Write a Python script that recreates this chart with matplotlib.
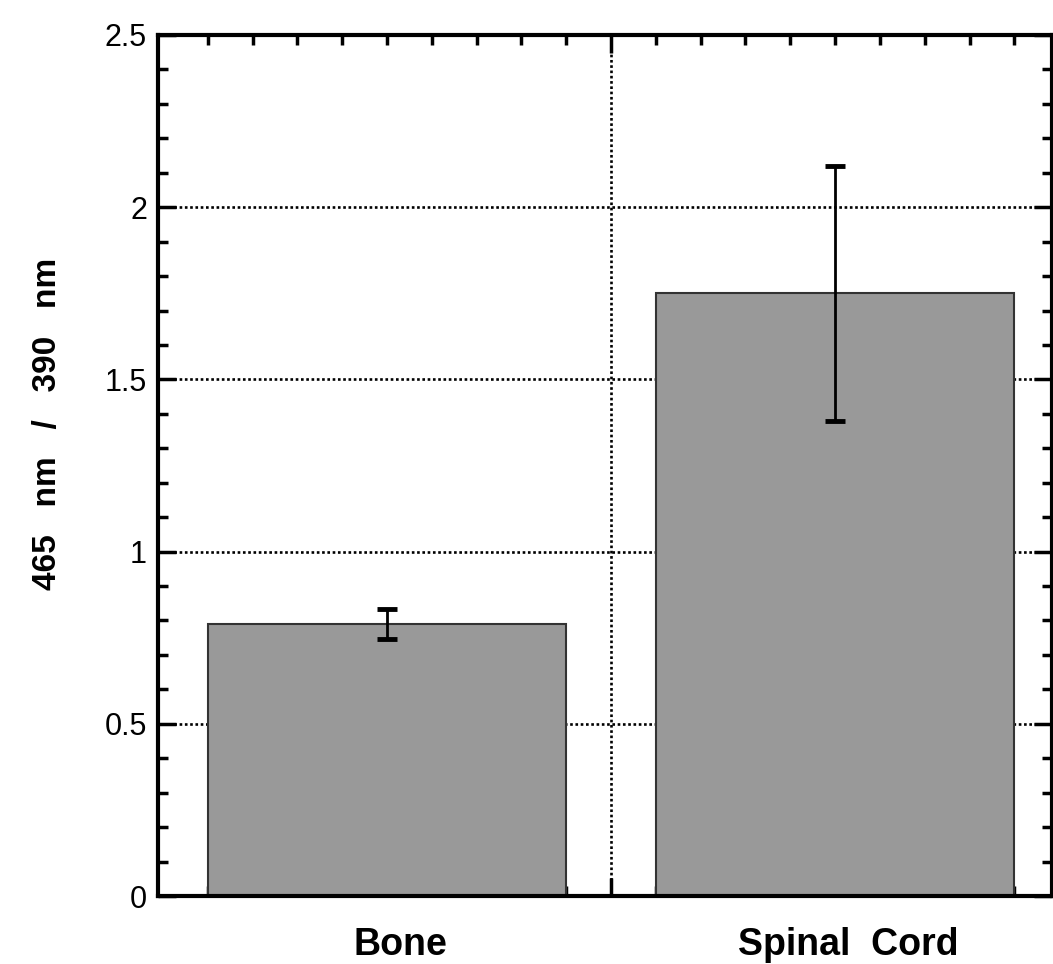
import matplotlib
matplotlib.use("Agg")
import matplotlib.pyplot as plt
from matplotlib.ticker import MultipleLocator, FixedLocator

plt.rcParams['font.family'] = ['Liberation Sans', 'DejaVu Sans']

categories = ["Bone", "Spinal  Cord"]
ratios = [0.79, 1.75]
errors = [0.044, 0.37]
y_ticks = [0, 0.5, 1, 1.5, 2, 2.5]
y_tick_labels = ["0", "0.5", "1", "1.5", "2", "2.5"]

fig = plt.figure(figsize=(10.53, 9.64), dpi=100)
ax = fig.add_axes([158 / 1053, 1 - 896 / 964, (1052 - 158) / 1053, (896 - 35) / 964])

x = list(range(len(categories)))
ax.bar(x, ratios, width=0.8, color="#999999", edgecolor="#333333",
       linewidth=1.5, zorder=2)
ax.errorbar(x, ratios, yerr=errors, fmt="none", ecolor="black",
            elinewidth=2, capsize=7, capthick=3.5, zorder=3)

ax.set_xlim(-0.511, 1.484)
ax.set_ylim(0, 2.5)

# dotted grid at the major ticks
for yv in y_ticks[1:-1]:
    ax.axhline(yv, color="black", linestyle=(0, (1, 1)), linewidth=1.9, zorder=1)
ax.axvline(0.5, color="black", linestyle=(0, (1, 1)), linewidth=1.9, zorder=1)

ax.yaxis.set_major_locator(FixedLocator(y_ticks))
ax.set_yticklabels(y_tick_labels, fontsize=22)
ax.yaxis.set_minor_locator(MultipleLocator(0.1))
ax.xaxis.set_major_locator(FixedLocator([0.5]))
ax.set_xticklabels([])
ax.xaxis.set_minor_locator(FixedLocator([v / 10 for v in range(-4, 15)]))

ax.tick_params(which="both", direction="in", top=True, right=True, width=2.5)
ax.tick_params(which="major", length=13, pad=8)
ax.tick_params(which="minor", length=7)

for s in ax.spines.values():
    s.set_linewidth(3)

# category labels under the bars
for xi, name in zip(x, categories):
    ax.text(xi + 0.03, -0.171, name, fontsize=27, fontweight="bold",
            ha="center", va="baseline", transform=ax.transData)

fig.text(48 / 1053, 1 - 424 / 964, "465   nm   /   390   nm", rotation=90,
         fontsize=24, fontweight="bold", ha="center", va="center")

fig.savefig("out.png", dpi=100)
